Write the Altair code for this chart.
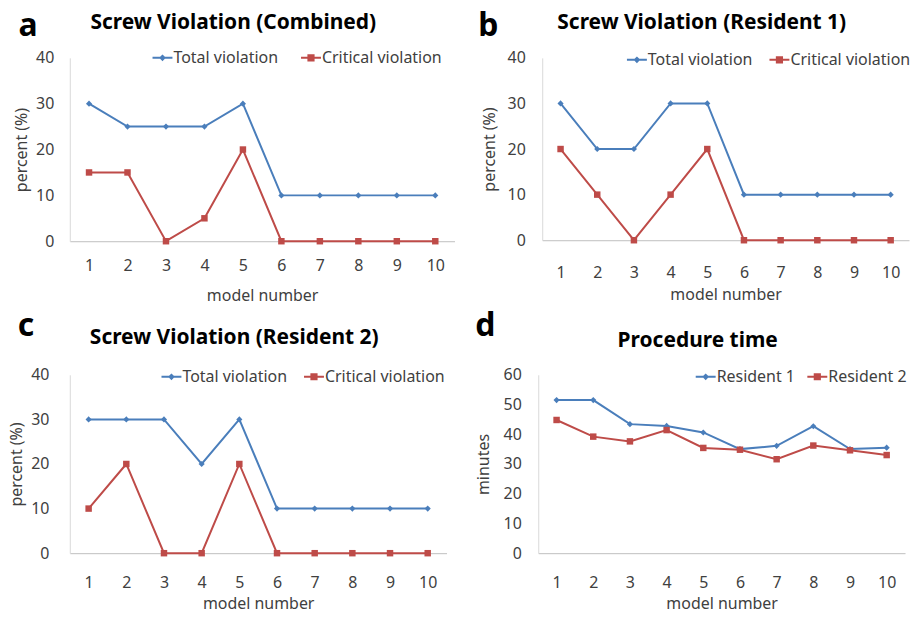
import altair as alt
import pandas as pd

# ---------------- data ----------------
models = list(range(1, 11))
comb_total = [30, 25, 25, 25, 30, 10, 10, 10, 10, 10]
comb_crit = [15, 15, 0, 5, 20, 0, 0, 0, 0, 0]
r1_total = [30, 20, 20, 30, 30, 10, 10, 10, 10, 10]
r1_crit = [20, 10, 0, 10, 20, 0, 0, 0, 0, 0]
r2_total = [30, 30, 30, 20, 30, 10, 10, 10, 10, 10]
r2_crit = [10, 20, 0, 0, 20, 0, 0, 0, 0, 0]
time_r1 = [51.5, 51.5, 43.4, 42.8, 40.6, 35.0, 36.1, 42.7, 35.0, 35.5]
time_r2 = [44.8, 39.2, 37.6, 41.4, 35.4, 34.8, 31.6, 36.2, 34.6, 33.0]

viol_names = ["Total violation", "Critical violation"]
time_names = ["Resident 1", "Resident 2"]

BLUE = "#4A7EBB"
RED = "#BE4B48"
FONT = "Noto Sans"
LABEL_COLOR = "#404040"

# legend symbols: short line with a marker on it
PATH_DIAMOND = "M-1,-0.1H-0.24L0,-0.34L0.24,-0.1H1V0.1H0.24L0,0.34L-0.24,0.1H-1Z"
PATH_SQUARE = "M-1,-0.1H-0.36V-0.36H0.36V-0.1H1V0.1H0.36V0.36H-0.36V0.1H-1Z"


def panel(s1, s2, names, ymax, ytitle, width, height, letter, title,
          letter_xy, title_xy, legend_xy, col_pad, y_lab_pad, y_title_pad,
          x_lab_pad, x_title_pad):
    df = pd.DataFrame({
        "model": models * 2,
        "value": s1 + s2,
        "series": [names[0]] * len(models) + [names[1]] * len(models),
    })
    cscale = alt.Scale(domain=names, range=[BLUE, RED])
    x = alt.X("model:O", scale=alt.Scale(type="point", padding=0.5),
              axis=alt.Axis(title="model number", labelAngle=0, ticks=False,
                            domainColor="#BFBFBF", labelPadding=x_lab_pad,
                            titlePadding=x_title_pad, labelFontSize=16,
                            titleFontSize=16, labelFont=FONT, titleFont=FONT,
                            labelColor=LABEL_COLOR, titleColor=LABEL_COLOR,
                            titleFontWeight="normal", grid=False))
    y = alt.Y("value:Q", scale=alt.Scale(domain=[0, ymax], nice=False),
              axis=alt.Axis(title=ytitle, values=list(range(0, ymax + 1, 10)),
                            ticks=False, domainColor="#D9D9D9",
                            labelPadding=y_lab_pad, titlePadding=y_title_pad,
                            labelFontSize=16, titleFontSize=16,
                            labelFont=FONT, titleFont=FONT,
                            labelColor=LABEL_COLOR, titleColor=LABEL_COLOR,
                            titleFontWeight="normal", grid=False))
    leg = alt.Legend(title=None, orient="none", direction="horizontal",
                     legendX=legend_xy[0], legendY=legend_xy[1],
                     labelFont=FONT, labelFontSize=16, labelColor=LABEL_COLOR,
                     symbolSize=400, symbolStrokeWidth=0, labelOffset=1,
                     columnPadding=col_pad)
    color = alt.Color("series:N", scale=cscale, legend=leg)
    base = alt.Chart(df)
    legend_layer = base.transform_filter("false").mark_point(
        filled=True, opacity=1).encode(
        x=x, y=y, color=color,
        shape=alt.Shape("series:N",
                        scale=alt.Scale(domain=names,
                                        range=[PATH_DIAMOND, PATH_SQUARE]),
                        legend=leg))
    lines = base.mark_line(strokeWidth=2).encode(x=x, y=y, color=color)
    pts1 = base.transform_filter(alt.datum.series == names[0]).mark_point(
        filled=True, shape="diamond", size=38, opacity=1).encode(
        x=x, y=y, color=color)
    pts2 = base.transform_filter(alt.datum.series == names[1]).mark_point(
        filled=True, shape="square", size=42, opacity=1).encode(
        x=x, y=y, color=color)
    letter_mark = alt.Chart(pd.DataFrame({"t": [letter]})).mark_text(
        font=FONT, fontSize=32, fontWeight="bold", align="center",
        baseline="alphabetic", color="black").encode(
        text="t:N", x=alt.value(letter_xy[0]), y=alt.value(letter_xy[1]))
    title_mark = alt.Chart(pd.DataFrame({"t": [title]})).mark_text(
        font=FONT, fontSize=21, fontWeight="bold", align="center",
        baseline="alphabetic", color="black").encode(
        text="t:N", x=alt.value(title_xy[0]), y=alt.value(title_xy[1]))
    return alt.layer(legend_layer, lines, pts1, pts2, letter_mark,
                     title_mark).properties(width=width, height=height)


pa = panel(comb_total, comb_crit, viol_names, 40, "percent (%)", 386, 184,
           "a", "Screw Violation (Combined)", (-42, -22), (164, -29),
           (83, -10), 22, 16, 6, 16, 14)
pb = panel(r1_total, r1_crit, viol_names, 40, "percent (%)", 368, 183,
           "b", "Screw Violation (Resident 1)", (-54, -22), (160, -29),
           (85, -8), 16, 17, 10, 24, 6)
pc = panel(r2_total, r2_crit, viol_names, 40, "percent (%)", 378, 179,
           "c", "Screw Violation (Resident 2)", (-44, -39), (165, -31),
           (92, -8), 16, 21, 6, 21, 5)
pd_ = panel(time_r1, time_r2, time_names, 60, "minutes", 368, 179,
            "d", "Procedure time", (-53, -39), (160, -28),
            (158, -8), 12, 17, 12, 21, 5)

RES = dict(color="independent", shape="independent")
chart = alt.vconcat(
    alt.hconcat(pa, pb, spacing=23).resolve_scale(**RES),
    alt.hconcat(pc, pd_, spacing=28).resolve_scale(**RES),
    spacing=7,
).resolve_scale(**RES).configure_view(stroke=None).properties(
    background="white",
    padding={"left": 0, "top": 1, "right": 0, "bottom": -3})

chart.save("out.html", embed_options={"renderer": "svg", "actions": False})
